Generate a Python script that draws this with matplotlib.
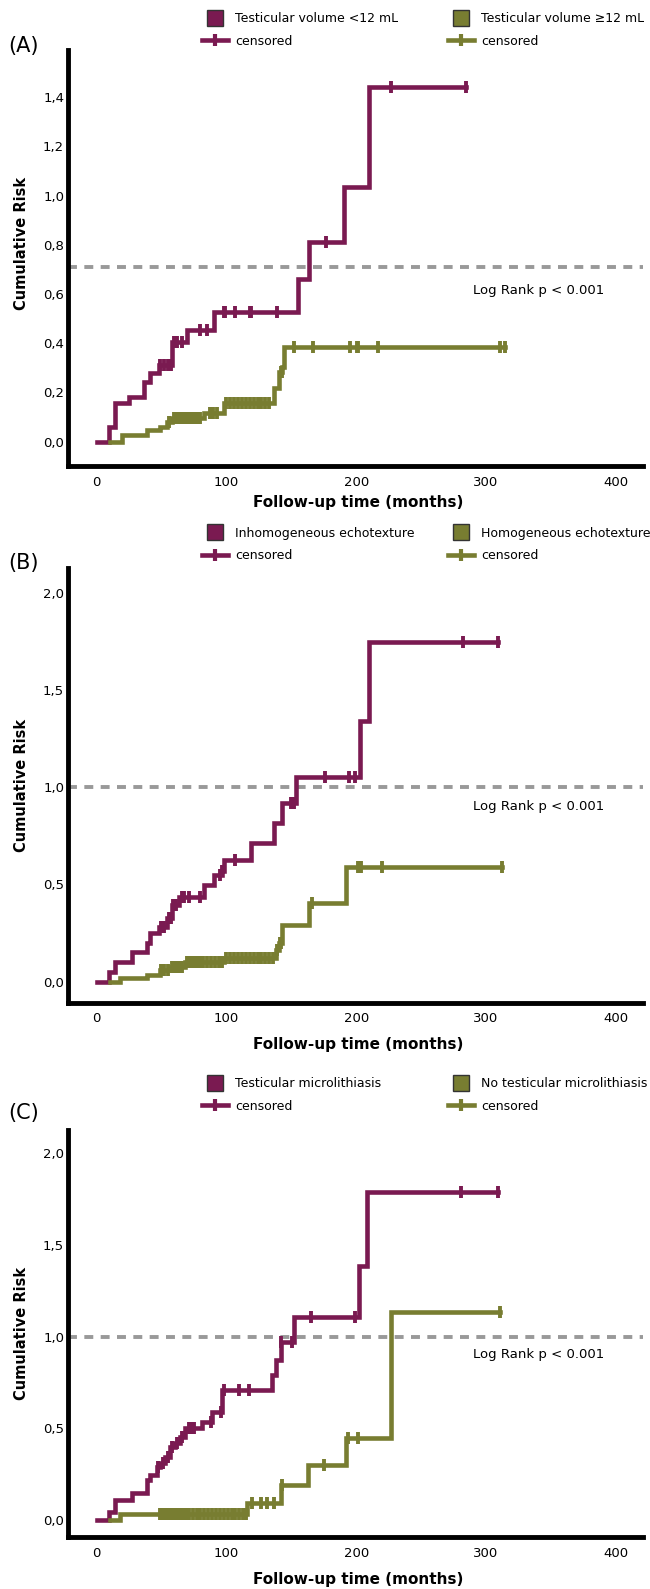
import numpy as np
import matplotlib
matplotlib.use("Agg")
import matplotlib.pyplot as plt
from matplotlib.lines import Line2D
from matplotlib.legend import Legend

PURPLE = "#7A1A51"
GREEN = "#787D31"

# ---- panel A : testicular volume ----
a1_t = [0, 9.9, 14.3, 24.6, 36.2, 41.4, 47.8, 58.2, 69.8, 90.3, 154.8, 163.8, 190.9, 210.2]
a1_v = [0, 0.061, 0.156, 0.183, 0.244, 0.278, 0.312, 0.406, 0.454, 0.528, 0.66, 0.813, 1.037, 1.44]
a1_end = 285
a1_cens = [49, 52, 55, 57, 60, 62, 66, 80, 85, 98, 99, 107, 118, 119, 139, 176.7, 226.5, 285]

a2_t = [10.4, 19.5, 38.8, 49, 54.3, 58.2, 82.6, 98, 136.7, 140.6, 143.2, 144.5]
a2_v = [0, 0.027, 0.048, 0.061, 0.081, 0.095, 0.115, 0.156, 0.217, 0.285, 0.305, 0.386]
a2_end = 314.6
a2_cens = [56, 60, 62, 64, 66, 68, 70, 72, 74, 76, 78, 80, 87, 90, 93, 100, 103, 106, 109, 112,
           115, 118, 121, 124, 127, 130, 133, 142, 143, 152, 166.4, 195.5, 200.7, 201.7, 216.7,
           310.7, 314.6]

# ---- panel B : echotexture ----
b1_t = [0, 9.9, 14.3, 27.2, 38.8, 41.4, 47.8, 54.2, 58.2, 63.3, 82.6, 90.3, 96.8, 98, 118.7,
        136.7, 143.2, 153.5, 203.3, 209.7]
b1_v = [0, 0.051, 0.103, 0.154, 0.197, 0.249, 0.283, 0.326, 0.394, 0.437, 0.497, 0.549, 0.57,
        0.626, 0.715, 0.814, 0.917, 1.054, 1.342, 1.748]
b1_end = 309.5
b1_cens = [50, 52, 56, 57, 59, 61, 66, 67, 71, 80, 95, 97, 107, 150, 152, 176.2, 194.8, 199.2,
           282.4, 309.5]

b2_t = [10.4, 18.2, 38.8, 49, 56.8, 68.4, 98, 138, 140.6, 143.2, 163.8, 192.2]
b2_v = [0, 0.017, 0.034, 0.06, 0.077, 0.103, 0.12, 0.163, 0.197, 0.292, 0.403, 0.591]
b2_end = 312
b2_cens = [50, 52, 55, 58, 60, 62, 64, 66, 70, 72, 74, 76, 78, 80, 82, 85, 88, 91, 94, 97, 100,
           103, 106, 109, 112, 115, 118, 121, 124, 127, 130, 133, 136, 139, 141, 142, 165.6,
           201.2, 204, 220, 312]

# ---- panel C : microlithiasis ----
c1_t = [0, 9.2, 14.3, 27.2, 38.8, 41.4, 46.5, 49.1, 53, 56.8, 60.7, 64.6, 68.4, 81.4, 89.1,
        96.8, 135.5, 138, 141.9, 152.2, 202.5, 208.4]
c1_v = [0, 0.045, 0.109, 0.145, 0.218, 0.245, 0.29, 0.309, 0.345, 0.40, 0.418, 0.454, 0.50,
        0.536, 0.59, 0.709, 0.791, 0.873, 0.97, 1.109, 1.386, 1.791]
c1_end = 309.5
c1_cens = [47, 51, 55, 58, 62, 66, 71, 73, 75, 88, 95.5, 98, 109.7, 117.4, 142.3, 150.8, 165.1,
           199.2, 281.1, 309.5]

c2_t = [10.4, 18.2, 116.1, 141.9, 162.6, 192.2, 226.5]
c2_v = [0, 0.033, 0.091, 0.191, 0.30, 0.446, 1.136]
c2_end = 310.8
c2_cens = [49, 51, 53, 55, 57, 59, 61, 63, 65, 67, 69, 71, 74, 77, 80, 83, 86, 89, 92, 95, 98,
           101, 104, 107, 110, 113, 115, 120, 126.5, 131.6, 136.7, 143.2, 175.4, 193.5, 201.2,
           310.8]

panel_names = ["(A)", "(B)", "(C)"]
legend_labels = [
    ["Testicular volume <12 mL", "Testicular volume \u226512 mL"],
    ["Inhomogeneous echotexture", "Homogeneous echotexture"],
    ["Testicular microlithiasis", "No testicular microlithiasis"],
]
ref_lines = [0.71, 1.0, 1.0]
yticks = [[0, 0.2, 0.4, 0.6, 0.8, 1.0, 1.2, 1.4], [0, 0.5, 1.0, 1.5, 2.0], [0, 0.5, 1.0, 1.5, 2.0]]
ylims = [(-0.099, 1.592), (-0.107, 2.127), (-0.093, 2.128)]
xticks = [0, 100, 200, 300, 400]
pvalue_text = "Log Rank p < 0.001"

curves = [
    [(a1_t, a1_v, a1_end, a1_cens), (a2_t, a2_v, a2_end, a2_cens)],
    [(b1_t, b1_v, b1_end, b1_cens), (b2_t, b2_v, b2_end, b2_cens)],
    [(c1_t, c1_v, c1_end, c1_cens), (c2_t, c2_v, c2_end, c2_cens)],
]


def risk_at(t, v, when):
    idx = np.searchsorted(t, when, side="right") - 1
    return np.asarray(v)[idx]


def draw_curve(ax, t, v, end, cens, color):
    xs = np.append(t, end)
    ys = np.append(v, v[-1])
    ax.step(xs, ys, where="post", color=color, lw=3.3, solid_joinstyle="miter", zorder=3)
    ax.plot(cens, risk_at(t, v, cens), ls="none", marker="|", ms=8, mew=2.8,
            color=color, zorder=4)


W, H = 650, 1589
fig = plt.figure(figsize=(W / 100, H / 100), dpi=100)

# axes boxes in pixels: (top, bottom)
boxes = [(50, 466), (568, 1002.5), (1130, 1537)]
ax_left, ax_right = 68.3, 643
ylabel_y = [0.536, 0.5, 0.5]
xlabel_gap = [29, 35, 35]
legend_rows = [12.2, 526.5, 1077]
panel_label_y = [45.6, 562.6, 1113]

for i in range(3):
    top, bot = boxes[i]
    ax = fig.add_axes([ax_left / W, 1 - bot / H, (ax_right - ax_left) / W, (bot - top) / H])
    for s in ["top", "right"]:
        ax.spines[s].set_visible(False)
    for s in ["left", "bottom"]:
        ax.spines[s].set_linewidth(3.5)
        ax.spines[s].set_capstyle("projecting")

    ax.axhline(ref_lines[i], color="#999999", lw=2.8, ls=(0, (2.3, 1.9)), zorder=2)

    draw_curve(ax, *curves[i][0], PURPLE)
    draw_curve(ax, *curves[i][1], GREEN)

    ax.set_xlim(-21.8, 421)
    ax.set_ylim(*ylims[i])
    ax.set_xticks(xticks)
    ax.set_yticks(yticks[i])
    ax.set_yticklabels([f"{v:.1f}".replace(".", ",") for v in yticks[i]])
    ax.tick_params(length=0, labelsize=9.5)
    ax.tick_params(axis="y", pad=3)
    ax.tick_params(axis="x", pad=7)

    ax.set_ylabel("Cumulative Risk", fontsize=10.5, fontweight="bold")
    ax.yaxis.set_label_coords(-0.068, ylabel_y[i])
    ax.set_xlabel("Follow-up time (months)", fontsize=11, fontweight="bold")
    ax.xaxis.set_label_coords(0.505, -xlabel_gap[i] / (bot - top))

    ax.text(290, ref_lines[i] - 0.097, pvalue_text, fontsize=9.5, ha="left", va="center")

    fig.text(8 / W, 1 - panel_label_y[i] / H, panel_names[i], fontsize=15,
             ha="left", va="center")

    for j, (col, x0) in enumerate([(PURPLE, 202), (GREEN, 448)]):
        handles = [
            Line2D([], [], ls="none", marker="s", ms=11, mfc=col, mec="#333333", mew=1),
            Line2D([], [], color=col, lw=3.3, marker="|", ms=9, mew=3),
        ]
        leg = Legend(ax, handles, [legend_labels[i][j], "censored"], loc="upper left",
                     bbox_to_anchor=(x0 / W, 1 - legend_rows[i] / H),
                     bbox_transform=fig.transFigure, frameon=False, fontsize=9,
                     borderpad=0, borderaxespad=0, handlelength=2.1,
                     handletextpad=0.55, labelspacing=0.76)
        ax.add_artist(leg)

fig.savefig("out.png", dpi=100)
